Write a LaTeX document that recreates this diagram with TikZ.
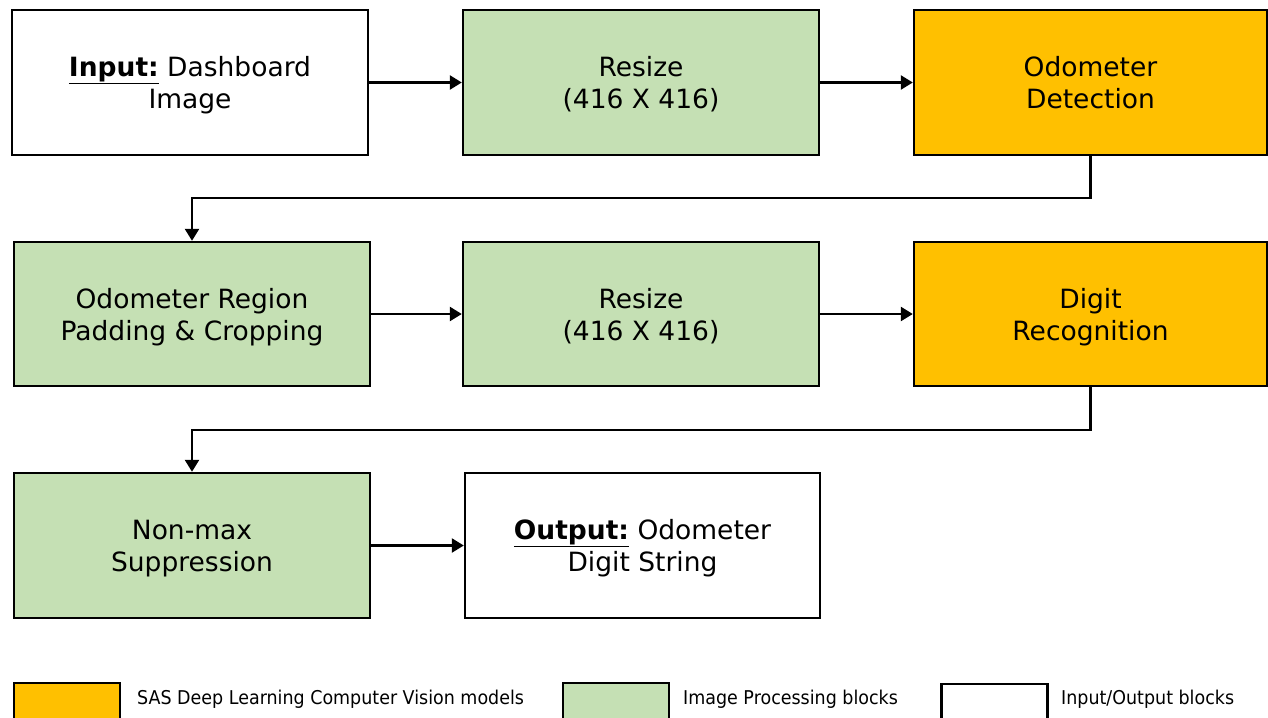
\documentclass[tikz,border=0pt]{standalone}
\usepackage{fontspec}
\setmainfont{DejaVu Sans}
\usetikzlibrary{arrows.meta,positioning}
\definecolor{sasorange}{HTML}{FFC000}
\definecolor{procgreen}{HTML}{C5E0B4}
\newcommand{\myul}[1]{\underline{#1}}
\tikzset{
  blk/.style={draw=black, line width=2.4pt, align=center, inner sep=0pt,
    font=\fontsize{26.5}{32}\selectfont, text depth=0pt},
  orangeblk/.style={blk, fill=sasorange},
  greenblk/.style={blk, fill=procgreen},
  whiteblk/.style={blk, fill=white},
  arr/.style={line width=2.4pt, -{Triangle[length=12pt,width=14pt]}},
  legbox/.style={draw=black, line width=2.4pt, minimum width=106pt, minimum height=80pt, inner sep=0pt},
  legtext/.style={anchor=west, inner sep=0pt, font=\fontsize{19}{22}\selectfont\addfontfeature{FakeStretch=0.92}}
}
\begin{document}
\begin{tikzpicture}[x=1pt,y=-1pt]
\useasboundingbox (0,0) rectangle (1268,717);
\clip (0,0) rectangle (1268,717);
% row 1
\node[whiteblk, minimum width=356pt, minimum height=145pt] (in) at (190,82.5) {\myul{\textbf{Input:}} Dashboard\\Image};
\node[greenblk, minimum width=356pt, minimum height=145pt] (rs1) at (641,82.5) {Resize\\(416 X 416)};
\node[orangeblk, minimum width=353pt, minimum height=145pt] (od) at (1090.5,82.5) {Odometer\\Detection};
% row 2
\node[greenblk, minimum width=356pt, minimum height=144pt] (pad) at (192,314) {Odometer Region\\Padding \& Cropping};
\node[greenblk, minimum width=356pt, minimum height=144pt] (rs2) at (641,314) {Resize\\(416 X 416)};
\node[orangeblk, minimum width=353pt, minimum height=144pt] (dr) at (1090.5,314) {Digit\\Recognition};
% row 3
\node[greenblk, minimum width=356pt, minimum height=145pt] (nms) at (192,545.5) {Non-max\\Suppression};
\node[whiteblk, minimum width=355pt, minimum height=145pt] (out) at (642.5,545.5) {\myul{\textbf{Output:}} Odometer\\Digit String};
% connectors
\coordinate (t1) at (641,198);
\coordinate (t2) at (641,430);
\draw[arr] (in) -- (rs1);
\draw[arr] (rs1) -- (od);
\draw[arr] (od.south) |- (t1) -| (pad.north);
\draw[arr] (pad) -- (rs2);
\draw[arr] (rs2) -- (dr);
\draw[arr] (dr.south) |- (t2) -| (nms.north);
\draw[arr] (nms) -- (out);
% legend
\node[legbox, fill=sasorange, anchor=north] (l1) at (67,682) {};
\node[legtext] (l1t) at (137,699) {SAS Deep Learning Computer Vision models};
\node[legbox, fill=procgreen, anchor=north] (l2) at (616,682) {};
\node[legtext] (l2t) at (683,699) {Image Processing blocks};
\node[legbox, fill=white, anchor=north] (l3) at (994.5,683) {};
\node[legtext] (l3t) at (1061,699) {Input/Output blocks};
\end{tikzpicture}
\end{document}
